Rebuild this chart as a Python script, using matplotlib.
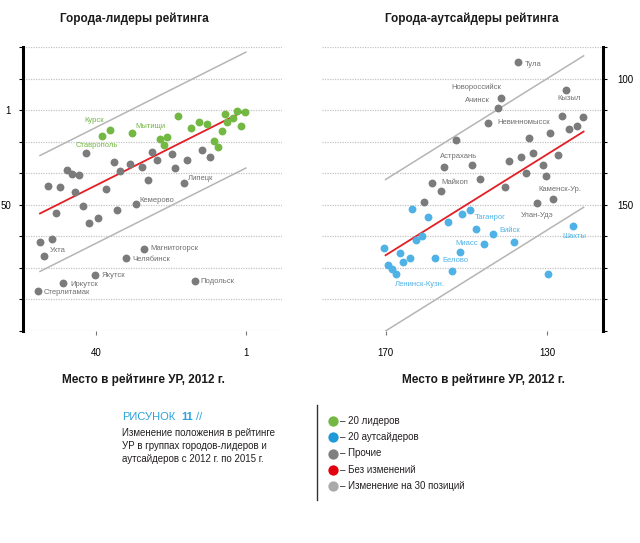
import matplotlib
matplotlib.use("Agg")
import matplotlib.pyplot as plt
import numpy as np

# ---------------------------------------------------------------- data
# left panel: x = place in 2012, y = place in 2015
lead_green_x = [38.3, 36.3, 30.5, 18.7, 15.3, 13.2, 11.2, 23.4, 21.5, 22.3, 6.3, 3.3, 1.3, 4.4, 6.0, 2.3, 7.2, 9.4, 8.3]
lead_green_y = [14.6, 11.1, 13.0, 4.1, 10.4, 7.1, 8.0, 15.8, 15.0, 19.3, 2.9, 1.2, 1.9, 5.3, 7.3, 9.0, 12.0, 16.8, 20.2]
lead_green_names = {0: 'Ставрополь', 1: 'Курск', 2: 'Мытищи'}

lead_gray_x = [42.5, 47.5, 46.2, 44.3, 52.3, 49.4, 45.3, 37.3, 35.2, 33.8, 31.1, 28.0, 26.4, 25.4, 24.0, 20.2, 19.4, 16.3,
               17.2, 12.3, 10.3, 43.2, 50.4, 41.7, 39.3, 34.6, 29.6, 54.4, 51.4, 53.4, 27.4, 32.1, 40.3, 48.4, 55.0, 14.3]
lead_gray_y = [23.3, 31.9, 33.9, 34.8, 40.1, 40.9, 43.2, 42.0, 27.8, 32.5, 29.1, 30.7, 37.2, 22.6, 26.8, 23.5, 30.8, 26.8,
               38.8, 21.4, 25.4, 50.8, 54.5, 59.4, 56.6, 52.9, 49.5, 69.5, 67.6, 76.7, 72.7, 77.7, 86.4, 90.4, 94.6, 89.4]
lead_gray_names = {18: 'Липецк', 26: 'Кемерово', 29: 'Ухта', 30: 'Магнитогорск', 31: 'Челябинск',
                   32: 'Якутск', 33: 'Иркутск', 34: 'Стерлитамак', 35: 'Подольск'}

# right panel
out_gray_x = [137.3, 141.4, 142.3, 144.6, 125.4, 126.4, 121.2, 124.6, 122.6, 129.4, 134.5, 152.6, 155.5, 148.5,
              139.5, 136.4, 133.5, 127.4, 131.1, 135.3, 130.4, 146.6, 140.4, 158.5, 156.4, 160.5, 132.5, 128.5]
out_gray_y = [93.6, 107.6, 111.8, 117.5, 104.5, 114.7, 115.4, 119.8, 118.6, 121.4, 123.5, 124.5, 135.0, 134.3,
              132.7, 131.1, 129.4, 130.3, 134.1, 137.3, 138.5, 139.7, 142.8, 141.5, 144.4, 148.9, 149.4, 147.7]
out_gray_names = {0: 'Тула', 1: 'Новороссийск', 2: 'Ачинск', 3: 'Невинномысск', 4: 'Кызыл',
                  12: 'Астрахань', 23: 'Майкоп', 26: 'Улан-Удэ', 27: 'Каменск-Ур.'}

out_blue_x = [163.5, 159.6, 154.5, 151.0, 149.1, 147.5, 143.3, 145.6, 138.2, 161.1, 162.5, 170.3, 166.5, 165.6,
              164.0, 157.7, 151.7, 153.6, 169.4, 168.4, 167.5, 129.9, 123.5]
out_blue_y = [151.8, 154.8, 157.0, 153.6, 152.0, 159.5, 161.6, 165.5, 164.8, 162.3, 164.0, 167.0, 169.3, 172.5,
              170.9, 170.9, 168.7, 176.1, 173.8, 175.6, 177.6, 177.6, 158.4]
out_blue_names = {5: 'Таганрог', 6: 'Бийск', 16: 'Миасс', 17: 'Белово', 20: 'Ленинск-Кузн.', 22: 'Шахты'}

shift = 30  # "change of 30 places" lines
lead_range = [54.5, 1]
out_range = [170, 121]

legend_labels = ['– 20 лидеров', '– 20 аутсайдеров', '– Прочие', '– Без изменений', '– Изменение на 30 позиций']
caption_lines = ['Изменение положения в рейтинге', 'УР в группах городов-лидеров и', 'аутсайдеров с 2012 г. по 2015 г.']

# ---------------------------------------------------------------- style
GREEN = '#72b842'
BLUE = '#4fb2e6'
GRAY = '#7b7b7b'
RED = '#e31e24'
LGRAY = '#b5b5b5'
GRID = '#c4c4c4'
FONT = 'Liberation Sans'

# label offsets in pixels (dx, dy, ha)
label_pos = {
    'Курск': (-26, 9, 'left'), 'Ставрополь': (-27, -9, 'left'), 'Мытищи': (3, 7, 'left'),
    'Липецк': (4, 5, 'left'), 'Кемерово': (4, 3, 'left'), 'Ухта': (6, 6, 'left'),
    'Магнитогорск': (6, 0, 'left'), 'Челябинск': (6, -1, 'left'), 'Якутск': (7, 0, 'left'),
    'Иркутск': (7, -2, 'left'), 'Стерлитамак': (6, -2, 'left'), 'Подольск': (6, -1, 'left'),
    'Тула': (7, -2, 'left'), 'Новороссийск': (0, 10, 'right'), 'Ачинск': (-8, 8, 'right'),
    'Невинномысск': (9, 0, 'left'), 'Кызыл': (-8, -9, 'left'), 'Астрахань': (-4, 10, 'left'),
    'Майкоп': (9, 1, 'left'), 'Каменск-Ур.': (-15, 9, 'left'), 'Улан-Удэ': (-16, -12, 'left'),
    'Таганрог': (-2, 11, 'left'), 'Бийск': (6, 4, 'left'), 'Миасс': (-4, 8, 'left'),
    'Белово': (-9, 10, 'left'), 'Ленинск-Кузн.': (-1, -10, 'left'), 'Шахты': (-11, -11, 'left'),
}

plt.rcParams['font.family'] = [FONT, 'DejaVu Sans']

W, H = 640, 543
fig = plt.figure(figsize=(W / 100, H / 100), dpi=100)


def px_axes(x0, y0, x1, y1):
    return fig.add_axes([x0 / W, 1 - y1 / H, (x1 - x0) / W, (y1 - y0) / H])


def put_labels(ax, xs, ys, names, color):
    for i, name in names.items():
        dx, dy, ha = label_pos[name]
        ax.annotate(name, (xs[i], ys[i]), xytext=(dx, dy), textcoords='offset pixels',
                    ha=ha, va='center', fontsize=5.5, color=color, zorder=5)


def setup(ax, ygrid, ylabels, xticks, side, ypad):
    ax.set_yticks(ygrid)
    ax.set_yticklabels(ylabels)
    ax.set_xticks(xticks)
    ax.set_xticklabels([str(t) for t in xticks])
    for y in ygrid:
        ax.axhline(y, color=GRID, lw=0.9, ls=(0, (1, 1)), zorder=0)
    for s in ax.spines.values():
        s.set_visible(False)
    ax.spines[side].set_visible(True)
    ax.spines[side].set_linewidth(2.2)
    ax.spines[side].set_color('black')
    ax.tick_params(axis='y', length=3, width=0.8, color='black', labelsize=7, pad=ypad)
    ax.tick_params(axis='x', length=3, width=0.8, color='#777777', labelsize=7, pad=9)
    if side == 'right':
        ax.yaxis.tick_right()
    ax.set_facecolor('none')


# ---------------------------------------------------------------- left panel
axL = px_axes(22.7, 47, 282, 331)
axL.set_xlim(59.0, -8.4)
axL.set_ylim(115.33, -31.67)
gridL = [1 + 49 / 3 * k for k in range(-2, 8)]
setup(axL, gridL, ['1' if k == 0 else ('50' if k == 3 else '') for k in range(-2, 8)], [40, 1], 'left', 5.5)

xl = np.array(lead_range)
axL.plot(xl, xl - shift, color=LGRAY, lw=1.1, zorder=1)
axL.plot(xl, xl + shift, color=LGRAY, lw=1.1, zorder=1)
axL.plot([lead_range[0], 2], [lead_range[0], 2], color=RED, lw=1.3, zorder=3)
axL.scatter(lead_gray_x, lead_gray_y, s=32, color=GRAY, lw=0, zorder=4)
axL.scatter(lead_green_x, lead_green_y, s=32, color=GREEN, lw=0, zorder=4)
put_labels(axL, lead_gray_x, lead_gray_y, lead_gray_names, '#6f6f6f')
put_labels(axL, lead_green_x, lead_green_y, lead_green_names, GREEN)

# ---------------------------------------------------------------- right panel
axR = px_axes(321.7, 47, 603, 331)
axR.set_xlim(185.8, 116.2)
axR.set_ylim(200, 87.5)
gridR = [87.5 + 12.5 * k for k in range(10)]
setup(axR, gridR, ['100' if g == 100 else ('150' if g == 150 else '') for g in gridR], [170, 130], 'right', 7)

xr = np.array(out_range)
axR.plot(xr, xr - shift, color=LGRAY, lw=1.1, zorder=1)
axR.plot(xr, xr + shift, color=LGRAY, lw=1.1, zorder=1)
axR.plot(xr, xr, color=RED, lw=1.3, zorder=3)
axR.scatter(out_gray_x, out_gray_y, s=32, color=GRAY, lw=0, zorder=4)
axR.scatter(out_blue_x, out_blue_y, s=32, color=BLUE, lw=0, zorder=4)
put_labels(axR, out_gray_x, out_gray_y, out_gray_names, '#6f6f6f')
put_labels(axR, out_blue_x, out_blue_y, out_blue_names, BLUE)

# ---------------------------------------------------------------- titles
fig.text(134.7 / W, 1 - 19 / H, 'Города-лидеры рейтинга', ha='center', va='center',
         fontsize=8.5, fontweight='bold', color='#1a1a1a')
fig.text(471.7 / W, 1 - 19 / H, 'Города-аутсайдеры рейтинга', ha='center', va='center',
         fontsize=8.5, fontweight='bold', color='#1a1a1a')
fig.text(143.6 / W, 1 - 380 / H, 'Место в рейтинге УР, 2012 г.', ha='center', va='center',
         fontsize=8.5, fontweight='bold', color='#1a1a1a')
fig.text(483.5 / W, 1 - 380 / H, 'Место в рейтинге УР, 2012 г.', ha='center', va='center',
         fontsize=8.5, fontweight='bold', color='#1a1a1a')

# ---------------------------------------------------------------- caption + legend
axO = fig.add_axes([0, 0, 1, 1])
axO.set_xlim(0, W)
axO.set_ylim(H, 0)
axO.axis('off')

axO.text(121.7, 417.5, 'РИСУНОК', fontsize=8, color='#2ba2db', va='center', ha='left')
axO.text(181.5, 417.5, '11', fontsize=8, color='#2ba2db', va='center', ha='left', fontweight='bold')
axO.text(196.5, 417.5, '//', fontsize=8, color='#2ba2db', va='center', ha='left')
for i, line in enumerate(caption_lines):
    axO.text(121.7, 433 + 13 * i, line, fontsize=7, color='#231f20', va='center', ha='left')

axO.plot([316.5, 316.5], [405, 500], color='#333333', lw=1)
leg_colors = [GREEN, '#1e9ad8', '#808080', '#e3000f', '#aaaaaa']
for i, (lab, c) in enumerate(zip(legend_labels, leg_colors)):
    yy = 420.7 + 16.4 * i
    axO.scatter([333.3], [yy], s=55, color=c, lw=0)
    axO.text(340.5, yy, lab, fontsize=7, color='#231f20', va='center', ha='left')

fig.savefig('out.png', dpi=100, facecolor='white')
